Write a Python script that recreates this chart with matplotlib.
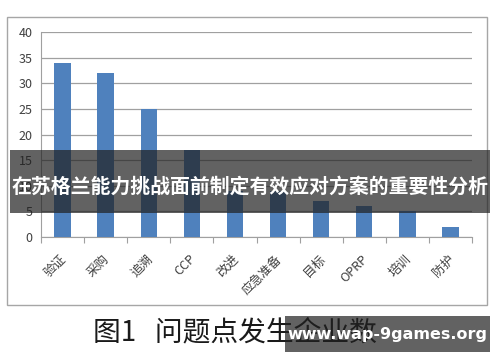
import matplotlib.pyplot as plt
from matplotlib.patches import Rectangle

plt.rcParams['font.family'] = ['Noto Sans CJK SC', 'DejaVu Sans']

# data
cats = ['验证', '采购', '追溯', 'CCP', '改进', '应急准备', '目标', 'OPRP', '培训', '防护']
counts = [34, 32, 25, 17, 9, 9, 7, 6, 5, 2]
yticks = [0, 5, 10, 15, 20, 25, 30, 35, 40]

W, H = 500, 362
fig = plt.figure(figsize=(5, 3.62), dpi=100)

# outer chart frame
fig.patches.append(Rectangle((7 / W, 1 - 305 / H), 480 / W, 288 / H, transform=fig.transFigure,
                             fill=False, edgecolor='#a6a6a6', linewidth=1))

ax = fig.add_axes([41 / W, 1 - 237 / H, 431 / W, 205 / H])
x = range(len(cats))
ax.bar(x, counts, width=0.38, color='#4f81bd', zorder=3)
ax.set_ylim(0, 40)
ax.set_xlim(-0.5, len(cats) - 0.5)
ax.set_yticks(yticks)
ax.yaxis.grid(True, color='#a0a0a0', linewidth=0.9, zorder=0)
ax.tick_params(axis='y', length=0, labelsize=9, labelcolor='#404040', pad=6)

# category ticks sit between bars
ax.set_xticks([i + 0.5 for i in range(-1, len(cats))], minor=False)
ax.set_xticklabels([])
ax.tick_params(axis='x', length=4, color='#a0a0a0', direction='out')
for i, c in enumerate(cats):
    ax.text(i + 0.15, -3.0, c, rotation=45, ha='right', va='top', fontsize=9, color='#404040')

for s in ['top', 'right']:
    ax.spines[s].set_visible(False)
ax.spines['left'].set_color('#a0a0a0')
ax.spines['bottom'].set_color('#a0a0a0')

# caption
fig.text(93 / W, 1 - 332 / H, '图1   问题点发生企业数', fontsize=20, va='center', ha='left', color='#1a1a1a')

# overlay banner
fig.patches.append(Rectangle((10 / W, 1 - 213 / H), 480 / W, 63 / H, transform=fig.transFigure,
                             facecolor='#202020', alpha=0.7, edgecolor='none', zorder=10))
fig.text(250 / W, 1 - 186 / H, '在苏格兰能力挑战面前制定有效应对方案的重要性分析', fontsize=14.3,
         fontweight='bold', color='white', ha='center', va='center', zorder=11)

# watermark
fig.patches.append(Rectangle((285 / W, 1 - 352 / H), 205 / W, 36 / H, transform=fig.transFigure,
                             facecolor='#202020', alpha=0.7, edgecolor='none', zorder=10))
fig.text(387 / W, 1 - 335 / H, 'www.wap-9games.org', fontsize=11.5, fontweight='bold',
         color='white', ha='center', va='center', zorder=11, family='DejaVu Sans')

fig.savefig('out.png', dpi=100)
